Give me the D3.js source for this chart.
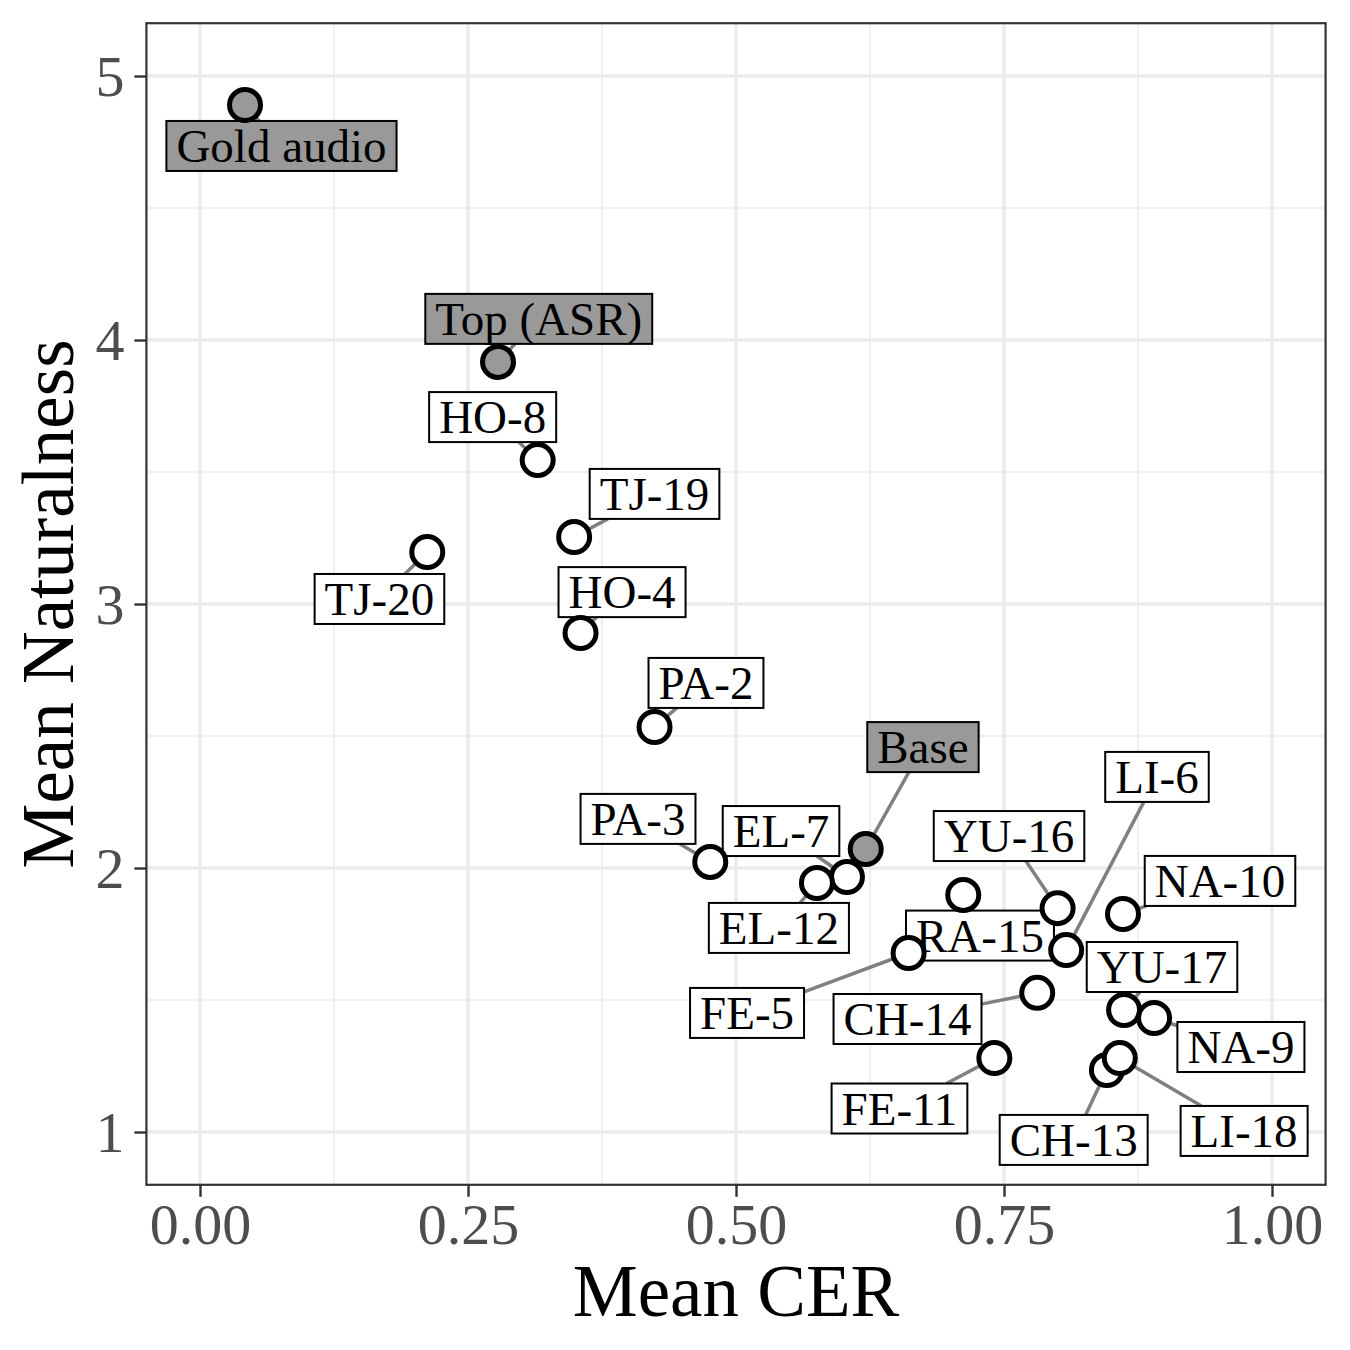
<!DOCTYPE html>
<html><head><meta charset="utf-8">
<script src="https://cdn.jsdelivr.net/npm/d3@7"></script>
<style>body{margin:0;background:#fff} svg{display:block}</style>
</head><body>
<svg id="chart" width="1350" height="1350"></svg>
<script>
// ---- data ----
const systems   = ["Gold audio","Top (ASR)","HO-8","TJ-19","TJ-20","HO-4","PA-2","Base","PA-3","EL-7","EL-12",
                   "YU-16","LI-6","NA-10","RA-15","YU-17","FE-5","CH-14","NA-9","FE-11","CH-13","LI-18"];
const meanCER   = [0.042,0.278,0.315,0.349,0.212,0.355,0.424,0.621,0.476,0.6035,0.5755,
                   0.800,0.808,0.861,0.712,0.862,0.661,0.781,0.890,0.741,0.846,0.858];
const meanNat   = [4.89,3.917,3.545,3.254,3.197,2.890,2.534,2.072,2.023,1.966,1.943,
                   1.848,1.689,1.826,1.898,1.462,1.678,1.527,1.432,1.280,1.235,1.280];
const reference = [true,true,false,false,false,false,false,true,false,false,false,
                   false,false,false,false,false,false,false,false,false,false,false];
// repelled label centres (data units)
const labelCER  = [0.076,0.316,0.273,0.424,0.1674,0.3937,0.472,0.6744,0.4086,0.542,0.540,
                   0.7547,0.8927,0.9515,0.7276,0.8974,0.5103,0.660,0.971,0.6525,0.815,0.974];
const labelNat  = [4.735,4.080,3.708,3.417,3.019,3.045,2.701,2.458,2.186,2.140,1.773,
                   2.121,2.345,1.951,1.744,1.625,1.451,1.428,1.322,1.089,0.970,1.004];
const xTicks = [0,0.25,0.5,0.75,1];
const xTickLabels = ["0.00","0.25","0.50","0.75","1.00"];
const xMinor = [0.125,0.375,0.625,0.875];
const yTicks = [1,2,3,4,5];
const yTickLabels = ["1","2","3","4","5"];
const yMinor = [1.5,2.5,3.5,4.5];
const xTitle = "Mean CER", yTitle = "Mean Naturalness";

// ---- layout ----
const L = 146.4, R = 1325.6, T = 23.2, B = 1184.8;
const svg = d3.select("#chart");
svg.append("rect").attr("width",1350).attr("height",1350).attr("fill","#fff");
const x = d3.scaleLinear().domain([-0.05,1.05]).range([L,R]);
const y = d3.scaleLinear().domain([0.8,5.2]).range([B,T]);
const font = "'Liberation Serif','Times New Roman',serif";

const grid = svg.append("g");
grid.selectAll(".xm").data(xMinor).join("line")
  .attr("x1",d=>x(d)).attr("x2",d=>x(d)).attr("y1",T).attr("y2",B)
  .attr("stroke","#EBEBEB").attr("stroke-width",1.6);
grid.selectAll(".ym").data(yMinor).join("line")
  .attr("y1",d=>y(d)).attr("y2",d=>y(d)).attr("x1",L).attr("x2",R)
  .attr("stroke","#EBEBEB").attr("stroke-width",1.6);
grid.selectAll(".xM").data(xTicks).join("line")
  .attr("x1",d=>x(d)).attr("x2",d=>x(d)).attr("y1",T).attr("y2",B)
  .attr("stroke","#EBEBEB").attr("stroke-width",3.4);
grid.selectAll(".yM").data(yTicks).join("line")
  .attr("y1",d=>y(d)).attr("y2",d=>y(d)).attr("x1",L).attr("x2",R)
  .attr("stroke","#EBEBEB").attr("stroke-width",3.4);

// axes
const xAxis = d3.axisBottom(x).tickValues(xTicks).tickFormat((d,i)=>xTickLabels[i]).tickSize(12).tickPadding(6);
const yAxis = d3.axisLeft(y).tickValues(yTicks).tickFormat((d,i)=>yTickLabels[i]).tickSize(12).tickPadding(10);
const gx = svg.append("g").attr("transform",`translate(0,${B})`).call(xAxis);
const gy = svg.append("g").attr("transform",`translate(${L},0)`).call(yAxis);
[gx,gy].forEach(g=>{
  g.select(".domain").remove();
  g.selectAll(".tick line").attr("stroke","#333").attr("stroke-width",2.4);
  g.selectAll(".tick text").attr("fill","#4D4D4D").style("font-family",font).style("font-size","58px");
});
gx.selectAll(".tick text").attr("dy","0.71em");
gy.selectAll(".tick text").attr("dy","0.34em");

// titles
svg.append("text").attr("x",(L+R)/2).attr("y",1316).attr("text-anchor","middle")
  .style("font-family",font).style("font-size","73px").attr("fill","#000").text(xTitle);
svg.append("text").attr("transform",`translate(73,${(T+B)/2}) rotate(-90)`).attr("text-anchor","middle")
  .style("font-family",font).style("font-size","73px").attr("fill","#000").text(yTitle);

// labels
const rOuter = 18, rPt = 15.5;
const idx = d3.range(systems.length);
const segG = svg.append("g");
const labG = svg.append("g");
const boxH = 50, pad = 10;
idx.forEach(i=>{
  const cx = x(labelCER[i]), cy = y(labelNat[i]);
  const g = labG.append("g");
  const rect = g.append("rect");
  const t = g.append("text").attr("x",cx).attr("y",cy+16).attr("text-anchor","middle")
    .style("font-family",font).style("font-size","47px").attr("fill","#000").text(systems[i]);
  const w = t.node().getComputedTextLength() + 2*pad;
  rect.attr("x",cx-w/2).attr("y",cy-boxH/2).attr("width",w).attr("height",boxH)
    .attr("fill",reference[i]?"#999999":"#fff").attr("stroke","#000").attr("stroke-width",2);
  // segment from label box edge to point
  const px = x(meanCER[i]), py = y(meanNat[i]);
  const dx = px-cx, dy = py-cy;
  const tt = Math.min(Math.abs(dx)>0?(w/2)/Math.abs(dx):Infinity, Math.abs(dy)>0?(boxH/2)/Math.abs(dy):Infinity);
  if (tt < 1) {
    const sx = cx+dx*tt, sy = cy+dy*tt;
    const len = Math.hypot(px-sx, py-sy);
    if (len - rOuter > 3) {
      segG.append("line").attr("x1",sx).attr("y1",sy).attr("x2",px).attr("y2",py)
        .attr("stroke","#808080").attr("stroke-width",3.5);
    }
  }
});

// points
svg.append("g").selectAll("circle").data(idx).join("circle")
  .attr("cx",i=>x(meanCER[i])).attr("cy",i=>y(meanNat[i])).attr("r",rPt)
  .attr("fill",i=>reference[i]?"#999999":"#fff").attr("stroke","#000").attr("stroke-width",5);

// panel border
svg.append("rect").attr("x",L).attr("y",T).attr("width",R-L).attr("height",B-T)
  .attr("fill","none").attr("stroke","#333").attr("stroke-width",2.2);
</script>
</body></html>
